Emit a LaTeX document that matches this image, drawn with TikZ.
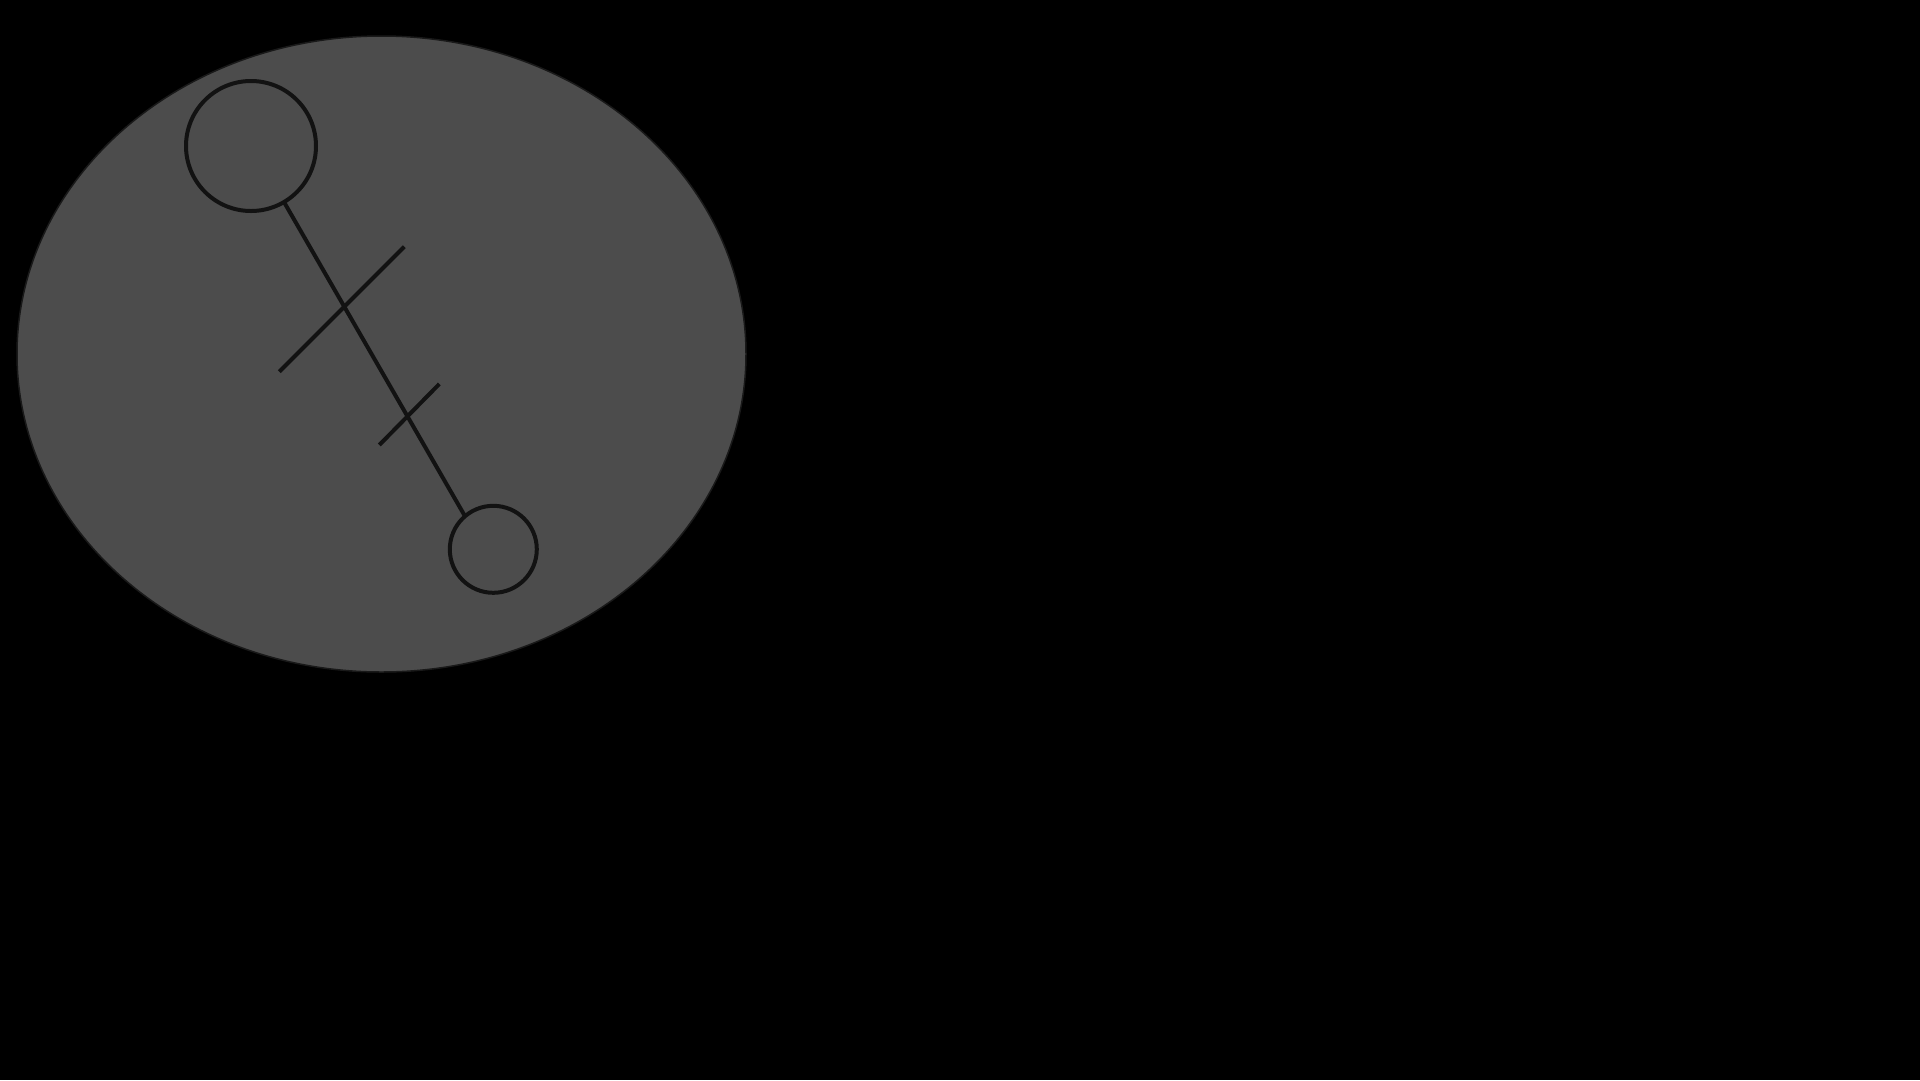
\documentclass[tikz,border=0pt]{standalone}
\begin{document}
\begin{tikzpicture}[x=1pt,y=-1pt,
  strokeline/.style={draw=black!93,line width=4pt},
  ring/.style={circle,draw=black!93,line width=4pt,inner sep=0pt}]
\useasboundingbox[fill=black] (0,0) rectangle (1920,1080);
\fill[fill=black!70, draw=black!90, line width=1.5pt] (381.5,354) ellipse [x radius=364.5, y radius=318];
\node[ring, minimum size=130pt] (big) at (251,146) {};
\node[ring, minimum size=87pt] (small) at (493.3,549.3) {};
\coordinate (a) at (284,202);
\coordinate (b) at (464.3,515);
\draw[strokeline] (a) -- (b);
\coordinate (t1a) at (279.3,371.7);
\coordinate (t1b) at (404.3,246.7);
\coordinate (t2a) at (379.3,445);
\coordinate (t2b) at (439.3,384);
\draw[strokeline] (t1a) -- (t1b);
\draw[strokeline] (t2a) -- (t2b);
\end{tikzpicture}
\end{document}
